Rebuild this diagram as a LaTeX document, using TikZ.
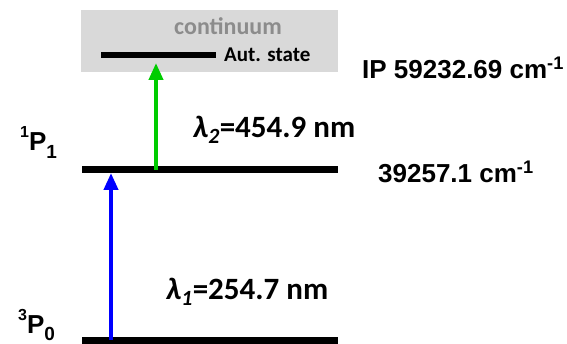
\documentclass[tikz,border=0pt]{standalone}
\usepackage{fontspec}
\setmainfont{Liberation Sans}
\newfontfamily\calfont{Carlito}
\usetikzlibrary{positioning, arrows.meta}

\definecolor{contgray}{HTML}{D9D9D9}
\definecolor{conttext}{HTML}{8C8C8C}
\definecolor{exblue}{HTML}{0000FF}
\definecolor{exgreen}{HTML}{00CC00}

% term symbol: multiplicity, letter, J
\newcommand{\term}[3]{\raisebox{0.5em}{\fontsize{16}{16}\selectfont #1}#2\raisebox{-0.28em}{\fontsize{19}{19}\selectfont #3}}

\begin{document}
\begin{tikzpicture}[x=1pt, y=-1pt,
	level/.style={line width=7pt},
	lab/.style={font=\bfseries\fontsize{26}{26}\selectfont, inner sep=0pt},
	wave/.style={font=\calfont\bfseries\fontsize{31}{31}\selectfont, inner sep=0pt, anchor=base west},
	excite/.style={line width=4pt, -{Triangle[width=14pt, length=17pt]}}]
	\useasboundingbox (0,0) rectangle (567,344);
	% continuum above the ionisation limit
	\fill [contgray] (81,10) rectangle (338,72);
	\node (cont) [font=\calfont\bfseries\fontsize{24}{24}\selectfont, text=conttext, inner sep=0pt] at (228,26) {continuum};
	% energy levels
	\coordinate (gl) at (82,340);  \coordinate (gr) at (338,340);
	\coordinate (pl) at (82,170);  \coordinate (pr) at (338,170);
	\coordinate (al) at (101,55);  \coordinate (ar) at (216,55);
	\draw [level] (gl) -- (gr);
	\draw [level] (pl) -- (pr);
	\draw [level, line width=6pt] (al) -- (ar);
	\node (aut) [right=8pt of ar, anchor=west, font=\calfont\bfseries\fontsize{21}{21}\selectfont, inner sep=0pt] {Aut. state};
	% term symbols and energies
	\node (p0) [lab, anchor=base west] at (18,333) {\term{3}{P}{0}};
	\node (p1) [lab, anchor=base west] at (20,151) {\term{1}{P}{1}};
	\node (e1) [lab, anchor=west] at (378,172) {39257.1 cm\textsuperscript{-1}};
	\node (ip) [lab, anchor=west] at (362,68) {IP 59232.69 cm\textsuperscript{-1}};
	% excitation steps
	\draw [excite, exblue] ([xshift=29pt] gl) -- ([xshift=29pt, yshift=-3pt] pl);
	\draw [excite, exgreen] ([xshift=74pt] pl) -- ([xshift=55pt, yshift=-8pt] al);
	\node (w1) [wave] at (166,300) {\textit{λ\textsubscript{1}}=254.7 nm};
	\node (w2) [wave] at (193,138) {\textit{λ\textsubscript{2}}=454.9 nm};
\end{tikzpicture}
\end{document}
